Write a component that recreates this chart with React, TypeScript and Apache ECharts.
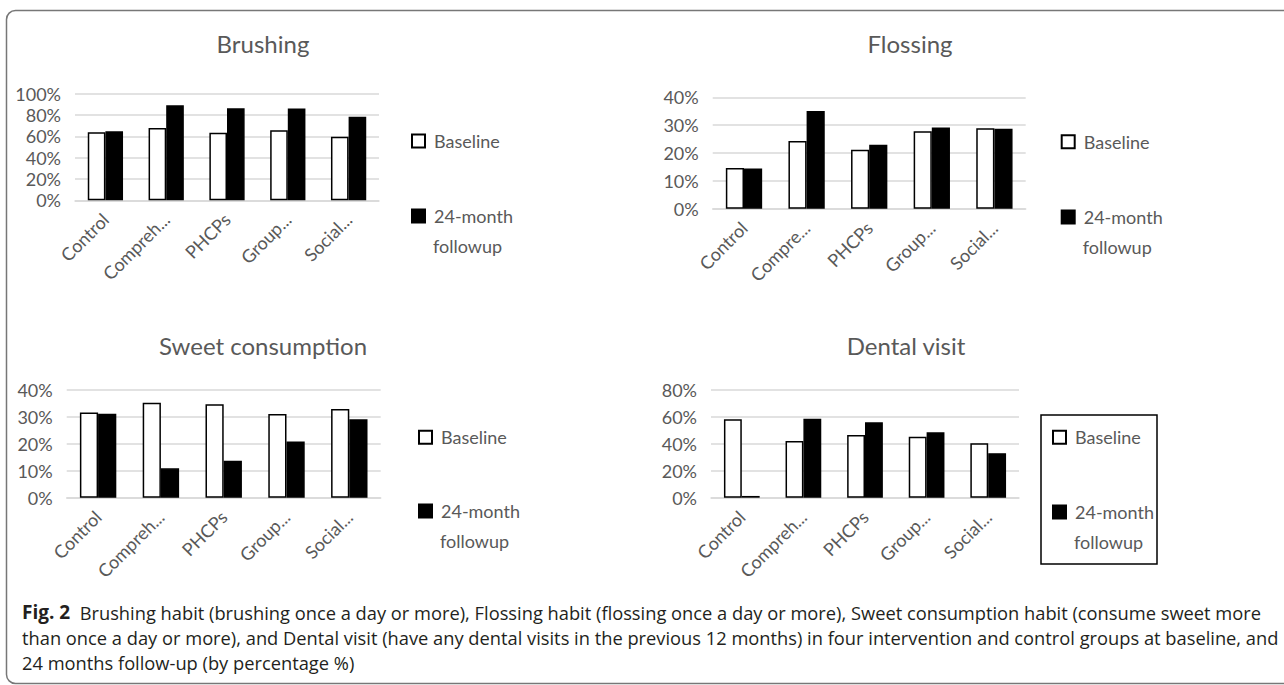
import { useEffect, useRef } from 'react';
import * as echarts from 'echarts';

const categories = ['Control', 'Compreh...', 'PHCPs', 'Group...', 'Social...'];
const flossCategories = ['Control', 'Compre...', 'PHCPs', 'Group...', 'Social...'];
const seriesNames = ['Baseline', '24-month followup'];

const brushingBaseline = [63.8, 67.8, 63.4, 65.7, 59.7];
const brushingFollowup = [64.7, 89.1, 86.3, 86.0, 78.4];
const flossingBaseline = [14.6, 24.3, 21.2, 27.8, 28.9];
const flossingFollowup = [14.4, 35.1, 23.0, 29.2, 28.7];
const sweetBaseline = [31.6, 35.3, 34.7, 31.1, 32.9];
const sweetFollowup = [31.2, 10.9, 13.7, 20.9, 29.1];
const dentalBaseline = [58.2, 42.1, 46.5, 45.2, 40.5];
const dentalFollowup = [1.3, 58.7, 56.0, 48.6, 33.1];

const panelTitles = ['Brushing', 'Flossing', 'Sweet consumption', 'Dental visit'];
const yMax = [100, 40, 40, 80];
const yInterval = [20, 10, 10, 20];

const captionLines = [
  'Brushing habit (brushing once a day or more), Flossing habit (flossing once a day or more), Sweet consumption habit (consume sweet more',
  'than once a day or more), and Dental visit (have any dental visits in the previous 12 months) in four intervention and control groups at baseline, and',
  '24 months follow-up (by percentage %)',
];

const FONT = 'Lato, "Open Sans", sans-serif';
const GREY = '#595959';

export default function App() {
  const ref = useRef<HTMLDivElement>(null);
  useEffect(() => {
    if (!ref.current) return;
    const chart = echarts.init(ref.current, undefined, { renderer: 'svg' });

    const panelCats = [categories, flossCategories, categories, categories];
    const panelData = [
      [brushingBaseline, brushingFollowup],
      [flossingBaseline, flossingFollowup],
      [sweetBaseline, sweetFollowup],
      [dentalBaseline, dentalFollowup],
    ];
    const grids = [
      { left: 75, top: 93.7, width: 304, height: 106.6 },
      { left: 712.7, top: 97.3, width: 313, height: 111.4 },
      { left: 66.7, top: 390, width: 314, height: 107.7 },
      { left: 711, top: 390, width: 308, height: 107.7 },
    ];
    const titlePos = [
      { x: 263, y: 31 },
      { x: 910, y: 31 },
      { x: 263, y: 333 },
      { x: 906, y: 333 },
    ];
    const legendPos = [
      { x: 411, c1: 141, c2: 216 },
      { x: 1060.7, c1: 141.7, c2: 217 },
      { x: 418, c1: 437.3, c2: 511 },
      { x: 1052, c1: 437.3, c2: 512 },
    ];

    const legendText = { fontSize: 18, color: GREY, fontFamily: FONT, lineHeight: 30 };
    const legends: any[] = [];
    const followTexts: any[] = [];
    legendPos.forEach((p) => {
      legends.push({
        data: [seriesNames[0]], left: p.x, top: p.c1 - 15, orient: 'vertical', padding: 0,
        itemWidth: 13, itemHeight: 13, icon: 'rect', selectedMode: false,
        textStyle: { ...legendText, padding: [0, 0, 0, 4] },
      });
      legends.push({
        data: [seriesNames[1]], left: p.x, top: p.c2 - 15, orient: 'vertical', padding: 0,
        itemWidth: 13, itemHeight: 13, icon: 'rect', selectedMode: false,
        formatter: () => '24-month',
        textStyle: { ...legendText, padding: [0, 0, 0, 4] },
      });
      followTexts.push({
        type: 'text', x: p.x + 22, y: p.c2 + 30, silent: true,
        style: { text: 'followup', fontSize: 18, fontFamily: FONT, fill: GREY, verticalAlign: 'middle' },
      });
    });

    const series: any[] = [];
    panelData.forEach((pair, i) => {
      series.push({
        type: 'bar', name: seriesNames[0], xAxisIndex: i, yAxisIndex: i, data: pair[0],
        barGap: '0%', barCategoryGap: '42%',
        itemStyle: { color: '#ffffff', borderColor: '#000000', borderWidth: 1.5 },
      });
      series.push({
        type: 'bar', name: seriesNames[1], xAxisIndex: i, yAxisIndex: i, data: pair[1],
        barGap: '0%', barCategoryGap: '42%',
        itemStyle: { color: '#000000', borderColor: '#000000', borderWidth: 1.5 },
      });
    });

    const captionGraphics: any[] = captionLines.map((line, i) => ({
      type: 'text', x: 22, y: 612 + i * 25, silent: true,
      style: {
        text: i === 0 ? '{b|Fig. 2}  ' + line : line,
        fontSize: 18.3, fontFamily: '"Open Sans", sans-serif', fill: '#231f20', verticalAlign: 'middle',
        rich: { b: { fontWeight: 'bold', fontSize: 19, fontFamily: '"Open Sans", sans-serif', fill: '#231f20' } },
      },
    }));

    chart.setOption({
      animation: false,
      textStyle: { fontFamily: FONT },
      title: panelTitles.map((t, i) => ({
        text: t, left: titlePos[i].x, top: titlePos[i].y, textAlign: 'center', padding: 0,
        textStyle: { fontSize: 24, fontWeight: 'normal', color: GREY, fontFamily: FONT },
      })),
      legend: legends,
      grid: grids,
      xAxis: panelCats.map((cats, i) => ({
        type: 'category', gridIndex: i, data: cats,
        axisLine: { show: true, lineStyle: { color: '#d9d9d9', width: 1.5 } },
        axisTick: { show: false },
        axisLabel: { rotate: 45, interval: 0, fontSize: 18, color: GREY, fontFamily: FONT, margin: 16 },
      })),
      yAxis: yMax.map((m, i) => ({
        type: 'value', gridIndex: i, min: 0, max: m, interval: yInterval[i],
        axisLine: { show: false }, axisTick: { show: false },
        axisLabel: { formatter: '{value}%', fontSize: 18, color: GREY, fontFamily: FONT, margin: 14 },
        splitLine: { lineStyle: { color: '#d9d9d9', width: 1.5 } },
      })),
      series,
      graphic: [
        {
          type: 'rect', shape: { x: 6.5, y: 10.5, width: 1300, height: 673, r: 9 },
          style: { fill: 'none', stroke: '#777777', lineWidth: 1.5 }, silent: true,
        },
        {
          type: 'rect', shape: { x: 1041, y: 415, width: 116, height: 149 },
          style: { fill: 'none', stroke: '#000000', lineWidth: 1.5 }, silent: true,
        },
        ...followTexts,
        ...captionGraphics,
      ],
    });
    return () => chart.dispose();
  }, []);
  return <div ref={ref} style={{ position: 'absolute', left: 0, top: 0, width: 1284, height: 685 }} />;
}
